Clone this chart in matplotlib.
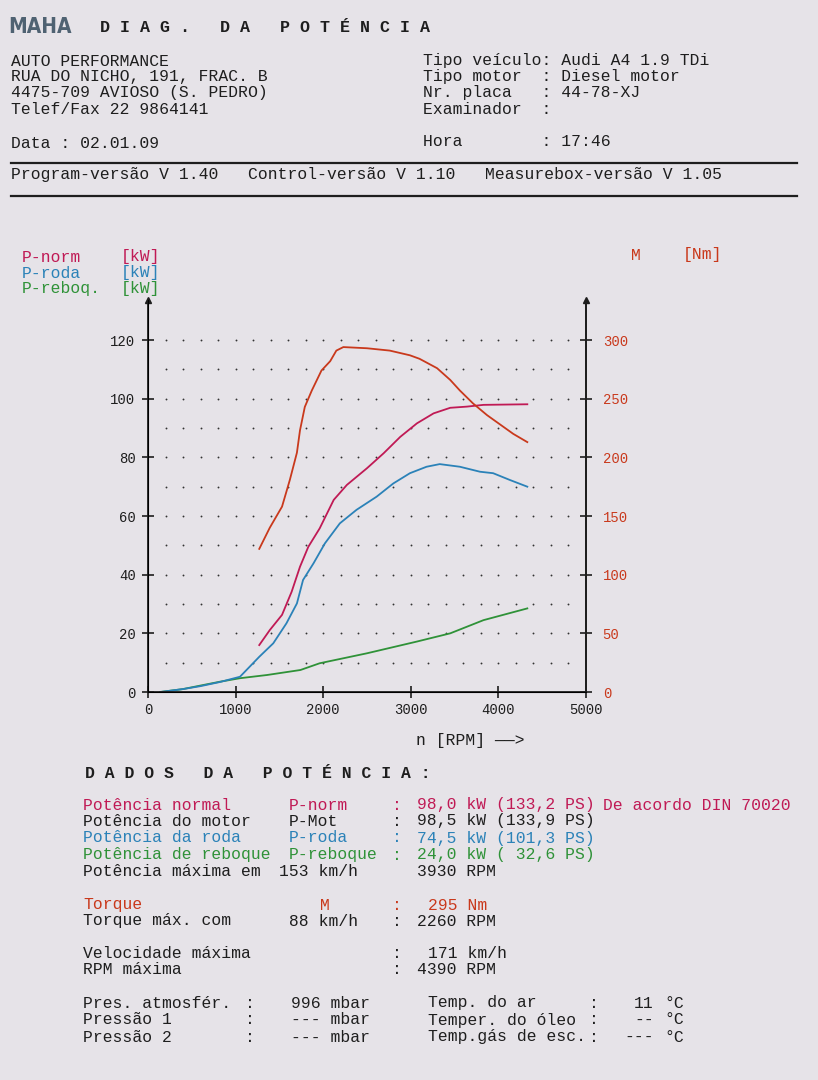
import numpy as np
import matplotlib
matplotlib.use("Agg")
from matplotlib import pyplot as plt

# curve data (rpm / kW, torque in Nm)
torque_rpm = [1270, 1390, 1530, 1620, 1700, 1735, 1790, 1870, 1980, 2080, 2150, 2230,
              2500, 2760, 2990, 3100, 3300, 3450, 3560, 3710, 3870, 4020, 4170, 4330]
torque_nm = [122, 140, 158, 181, 204, 223, 243, 257, 274, 282, 291, 294,
             293, 291, 287, 284, 276, 266, 257, 246, 236, 228, 220, 213]

pnorm_rpm = [1270, 1390, 1530, 1640, 1735, 1830, 1960, 2120, 2270, 2500, 2690, 2880,
             3070, 3260, 3450, 3640, 3830, 4330]
pnorm_kw = [16.0, 21.1, 26.3, 34.2, 42.7, 49.5, 55.8, 65.5, 70.6, 76.3, 81.4, 87.0,
            91.6, 95.0, 96.9, 97.3, 97.9, 98.1]

proda_rpm = [140, 400, 600, 820, 1050, 1270, 1430, 1580, 1700, 1770, 1890, 2020, 2190,
             2380, 2610, 2800, 2990, 3180, 3330, 3560, 3790, 3940, 4130, 4330]
proda_kw = [0.0, 1.0, 2.0, 3.4, 5.2, 12.0, 16.6, 23.4, 30.2, 38.2, 43.9, 50.7, 57.5,
            62.1, 66.6, 71.1, 74.6, 76.8, 77.7, 76.8, 75.1, 74.6, 72.3, 70.0]

preboq_rpm = [140, 400, 600, 820, 1050, 1360, 1740, 1960, 2500, 3070, 3450, 3830, 4330]
preboq_kw = [0.0, 1.0, 2.2, 3.5, 4.7, 5.8, 7.5, 9.8, 13.2, 17.2, 20.0, 24.5, 28.5]

kw_ticks = [0, 20, 40, 60, 80, 100, 120]
nm_ticks = [0, 50, 100, 150, 200, 250, 300]
rpm_ticks = [0, 1000, 2000, 3000, 4000, 5000]

W, H = 818, 1080
PAPER = "#e6e3e8"
INK = "#1e1e1e"
C_NORM = "#c01a55"
C_RODA = "#2b82b8"
C_REB = "#2f9238"
C_TQ = "#c9391c"
MONO = "Liberation Mono"
FS = 11.75

plt.rcParams["font.family"] = [MONO, "DejaVu Sans Mono"]

fig = plt.figure(figsize=(W / 100, H / 100), dpi=100, facecolor=PAPER)


def t(x, y, s, color=INK, size=FS, **kw):
    # place text by pixel position of the reference (left edge, vertical centre)
    fig.text(x / W, 1 - y / H, s, color=color, fontsize=size, va="center", ha=kw.pop("ha", "left"), **kw)


def hline(y, x0=11, x1=797, lw=1.6):
    fig.add_artist(plt.Line2D([x0 / W, x1 / W], [1 - y / H, 1 - y / H], color=INK, lw=lw))


# header
fig.text(8 / W, 1 - 27 / H, "MAHA", color="#4f6272", fontsize=15, fontweight="bold",
         family="DejaVu Sans", fontstretch="condensed", va="center")
t(100, 27, "D I A G .   D A   P O T É N C I A", size=12, fontweight="bold")

left_head = ["AUTO PERFORMANCE", "RUA DO NICHO, 191, FRAC. B",
             "4475-709 AVIOSO (S. PEDRO)", "Telef/Fax 22 9864141"]
right_head = ["Tipo veículo: Audi A4 1.9 TDi", "Tipo motor  : Diesel motor",
              "Nr. placa   : 44-78-XJ", "Examinador  :"]
for i, (a, b) in enumerate(zip(left_head, right_head)):
    t(11, 61 + 16 * i, a)
    t(423, 61 + 16 * i, b)
t(11, 143, "Data : 02.01.09")
t(423, 141, "Hora        : 17:46")
hline(163)
t(11, 174, "Program-versão V 1.40   Control-versão V 1.10   Measurebox-versão V 1.05")
hline(196)

# legend labels above the chart
t(22, 257, "P-norm", C_NORM)
t(121, 257, "[kW]", C_NORM)
t(22, 273, "P-roda", C_RODA)
t(121, 273, "[kW]", C_RODA)
t(22, 289, "P-reboq.", C_REB)
t(121, 289, "[kW]", C_REB)
t(631, 255, "M", C_TQ)
t(683, 255, "[Nm]", C_TQ)

# chart
ymax = (692 - 300) / 2.933
ax = fig.add_axes([148 / W, (H - 692) / H, (586 - 148) / W, (692 - 300) / H])
ax.set_facecolor("none")
ax.set_xlim(0, 5000)
ax.set_ylim(0, ymax)
ax.spines["top"].set_visible(False)
for s in ["left", "right", "bottom"]:
    ax.spines[s].set_color(INK)
    ax.spines[s].set_linewidth(1.3)

gx, gy = np.meshgrid(np.arange(200, 5000, 200), np.arange(10, 121, 10))
ax.scatter(gx.ravel(), gy.ravel(), s=1.8, color="#333333", lw=0)

ax.plot(preboq_rpm, preboq_kw, color=C_REB, lw=1.3)
ax.plot(proda_rpm, proda_kw, color=C_RODA, lw=1.3)
ax.plot(pnorm_rpm, pnorm_kw, color=C_NORM, lw=1.3)

ax.set_xticks(rpm_ticks)
ax.set_yticks(kw_ticks)
ax.tick_params(axis="both", colors=INK, labelsize=10, direction="inout", length=8, width=1.2)
ax.tick_params(axis="x", pad=4)
ax.tick_params(axis="y", pad=5)
ax.plot([0, 5000], [ymax, ymax], ls="none", marker="^", ms=5, color=INK, clip_on=False)

ax2 = ax.twinx()
ax2.set_ylim(0, ymax * 2.5)
ax2.spines["top"].set_visible(False)
ax2.spines["right"].set_color(INK)
ax2.spines["right"].set_linewidth(1.3)
ax2.plot(torque_rpm, torque_nm, color=C_TQ, lw=1.3)
ax2.set_yticks(nm_ticks)
ax2.tick_params(axis="y", colors=INK, labelcolor=C_TQ, labelsize=10, direction="inout",
                length=8, width=1.2, pad=8)

t(416, 740, "n [RPM] ——>")

# results block
t(85, 773, "D A D O S   D A   P O T É N C I A :", size=11.8, fontweight="bold")

rows = [
    (805, C_NORM, "Potência normal", "P-norm", ":", "98,0 kW (133,2 PS)"),
    (821, INK, "Potência do motor", "P-Mot", ":", "98,5 kW (133,9 PS)"),
    (838, C_RODA, "Potência da roda", "P-roda", ":", "74,5 kW (101,3 PS)"),
    (855, C_REB, "Potência de reboque", "P-reboque", ":", "24,0 kW ( 32,6 PS)"),
]
for y, c, a, b, colon, v in rows:
    t(83, y, a, c)
    t(289, y, b, c)
    t(392, y, colon, c)
    t(417, y, v, c)
t(603, 805, "De acordo DIN 70020", C_NORM)

t(83, 871, "Potência máxima em")
t(279, 871, "153 km/h")
t(417, 871, "3930 RPM")

t(83, 905, "Torque", C_TQ)
t(320, 905, "M", C_TQ)
t(392, 905, ":", C_TQ)
t(428, 905, "295 Nm", C_TQ)
t(83, 921, "Torque máx. com")
t(289, 921, "88 km/h")
t(392, 921, ":")
t(417, 921, "2260 RPM")

t(83, 954, "Velocidade máxima")
t(392, 954, ":")
t(428, 954, "171 km/h")
t(83, 970, "RPM máxima")
t(392, 970, ":")
t(417, 970, "4390 RPM")

bottom = [
    (1003, "Pres. atmosfér.", "996 mbar", "Temp. do ar", "11"),
    (1020, "Pressão 1", "--- mbar", "Temper. do óleo", "--"),
    (1037, "Pressão 2", "--- mbar", "Temp.gás de esc.", "---"),
]
for y, a, b, c, d in bottom:
    t(83, y, a)
    t(245, y, ":")
    t(291, y, b)
    t(428, y, c)
    t(589, y, ":")
    t(654, y, d, ha="right")
    t(664, y, "°C")

fig.savefig("out.png", dpi=100, facecolor=PAPER)
